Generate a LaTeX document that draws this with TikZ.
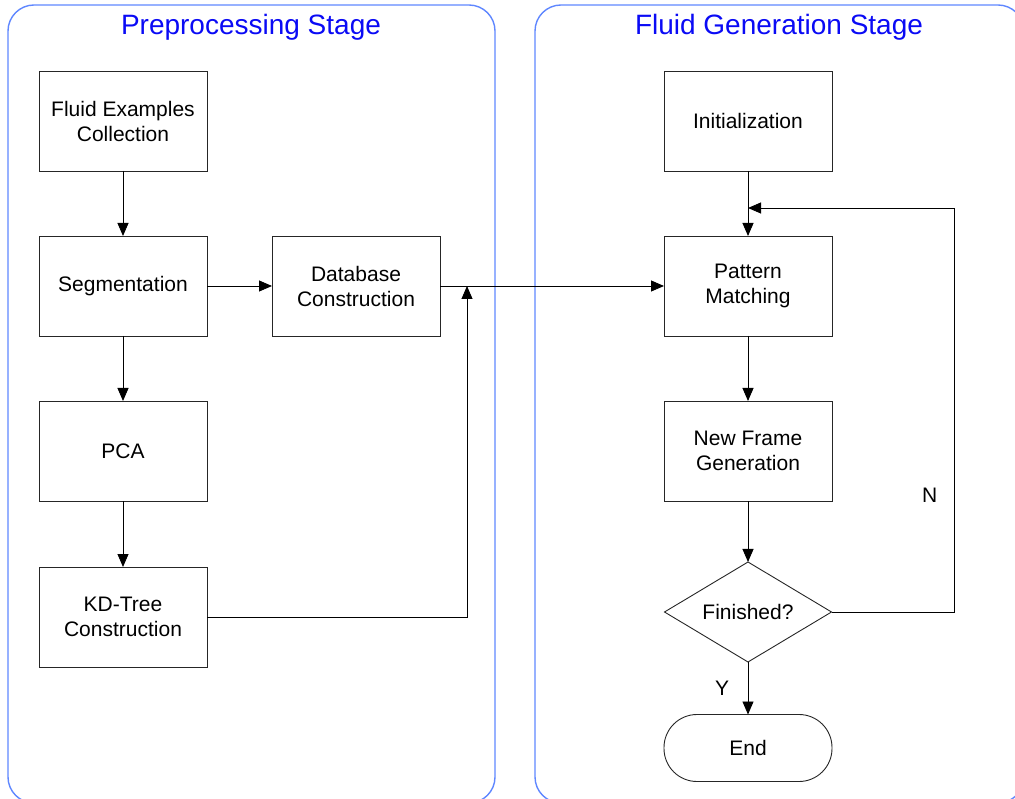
\documentclass[tikz,border=0pt]{standalone}
\usepackage{fontspec}
\setmainfont{Liberation Sans}
\usetikzlibrary{shapes.geometric,arrows.meta}

\definecolor{stageline}{RGB}{95,135,255}
\definecolor{stagetext}{RGB}{10,10,245}

\tikzset{
	stage/.style={draw=stageline, line width=1.4pt, rounded corners=26pt},
	stagetitle/.style={text=stagetext, font=\fontsize{28}{32}\selectfont},
	procbox/.style={draw=black!85, line width=0.9pt, minimum width=168pt,
		minimum height=100pt, align=center, inner sep=0pt, outer sep=0pt,
		font=\fontsize{21}{25}\selectfont},
	decision/.style={diamond, draw=black!85, line width=0.9pt, aspect=1.67,
		minimum width=167pt, minimum height=100pt, inner sep=0pt, outer sep=0pt,
		font=\fontsize{21}{25}\selectfont},
	terminal/.style={draw=black!85, line width=0.9pt, rounded corners=33pt,
		minimum width=168pt, minimum height=67pt, inner sep=0pt, outer sep=0pt,
		font=\fontsize{21}{25}\selectfont},
	flow/.style={draw=black, line width=0.9pt, -{Triangle[length=13pt,width=11pt]}},
	answer/.style={font=\fontsize{21}{25}\selectfont}
}

\begin{document}
\begin{tikzpicture}[x=1pt,y=-1pt]
	\clip (0,0) rectangle (1015,799);

	% stages
	\draw[stage] (8,5) rectangle (495,803);
	\draw[stage] (535,5) rectangle (1024,803);
	\node[stagetitle] (pretitle) at (251,27) {Preprocessing Stage};
	\node[stagetitle] (gentitle) at (779,27) {Fluid Generation Stage};

	% preprocessing
	\node[procbox] (fluid) at (123,121) {Fluid Examples\\Collection};
	\node[procbox] (seg) at (123,286) {Segmentation};
	\node[procbox] (pca) at (123,451) {PCA};
	\node[procbox] (kdtree) at (123,617) {KD-Tree\\Construction};
	\node[procbox] (database) at (356,286) {Database\\Construction};
	\coordinate (join) at (467,286);

	% generation
	\node[procbox] (init) at (748,121) {Initialization};
	\node[procbox] (match) at (748,286) {Pattern\\Matching};
	\node[procbox] (newframe) at (748,451) {New Frame\\Generation};
	\node[decision] (finished) at (748,612) {Finished?};
	\node[terminal] (end) at (748,748) {End};
	\coordinate (turn) at (954,208);
	\coordinate (back) at (748,208);

	\draw[flow] (fluid) -- (seg);
	\draw[flow] (seg) -- (database);
	\draw[flow] (seg) -- (pca);
	\draw[flow] (pca) -- (kdtree);
	\draw[flow] (kdtree.east) -| (join);
	\draw[flow] (database) -- (match);
	\draw[flow] (init) -- (match);
	\draw[flow] (match) -- (newframe);
	\draw[flow] (newframe) -- (finished);
	\draw[flow] (finished) -- node[answer, left=15pt] {Y} (end);
	\draw[flow] (finished.east) -| node[answer, pos=0.645, left=13pt] {N} (turn) -- (back);
\end{tikzpicture}
\end{document}
